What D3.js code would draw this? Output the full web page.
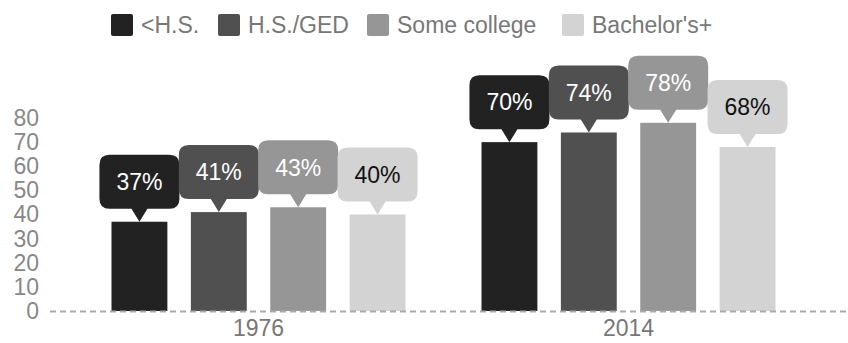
<!DOCTYPE html>
<html>
<head>
<meta charset="utf-8">
<script src="https://cdn.jsdelivr.net/npm/d3@7"></script>
<style>
  body { margin: 0; background: #fff; }
  text { font-family: "Liberation Sans", Arial, sans-serif; }
</style>
</head>
<body>
<div id="chart"></div>
<script>
var years = ["1976", "2014"];
var levels = ["<H.S.", "H.S./GED", "Some college", "Bachelor's+"];
var values1976 = [37, 41, 43, 40];
var values2014 = [70, 74, 78, 68];
var yTicks = [0, 10, 20, 30, 40, 50, 60, 70, 80];
var colors = ["#222222", "#505050", "#969696", "#d3d3d3"];
var labelColors = ["#ffffff", "#ffffff", "#ffffff", "#111111"];

var size = {
  width: 848,
  height: 343
};

var data = [];
years.forEach(function (yr, i) {
  var vals = i === 0 ? values1976 : values2014;
  levels.forEach(function (lv, j) {
    data.push({year: yr, level: lv, value: vals[j], idx: j});
  });
});

var svg = d3.select("#chart")
  .append("svg")
  .attr("width", size.width)
  .attr("height", size.height);

var yScale = d3.scaleLinear().domain([0, 80]).range([311, 118]);
var xScale = d3.scaleBand().domain(years).range([73.5, 813.5]);
var xInner = d3.scaleBand().domain(levels).range([38, 332]).paddingInner(0.296);
var color = d3.scaleOrdinal().domain(levels).range(colors);
var textColor = d3.scaleOrdinal().domain(levels).range(labelColors);

// y axis (labels only)
var yAxis = d3.axisLeft(yScale).tickValues(yTicks).tickSize(0).tickPadding(0);
var gy = svg.append("g")
  .attr("transform", "translate(39,0)")
  .call(yAxis);
gy.select(".domain").remove();
gy.selectAll("text")
  .attr("fill", "#888")
  .style("font-size", "23px")
  .style("font-family", "'Liberation Sans', Arial, sans-serif");

// bars
var bar = svg.selectAll("g.bar")
  .data(data)
  .enter()
  .append("g")
  .attr("class", "bar");

bar.append("rect")
  .attr("x", function (d) { return xScale(d.year) + xInner(d.level); })
  .attr("y", function (d) { return yScale(d.value); })
  .attr("width", xInner.bandwidth())
  .attr("height", function (d) { return yScale(0) - yScale(d.value); })
  .attr("fill", function (d) { return color(d.level); });

// baseline dashed
svg.append("line")
  .attr("x1", 50)
  .attr("x2", size.width)
  .attr("y1", yScale(0) + 0.5)
  .attr("y2", yScale(0) + 0.5)
  .attr("stroke", "#aaa")
  .attr("stroke-width", 2)
  .attr("stroke-dasharray", "6,4");

// x axis labels
var xAxis = d3.axisBottom(xScale).tickSize(0).tickPadding(0);
var gx = svg.append("g")
  .attr("transform", "translate(0," + (yScale(0) + 9) + ")")
  .call(xAxis);
gx.select(".domain").remove();
gx.selectAll("text")
  .attr("fill", "#777")
  .attr("dy", "0.71em")
  .style("font-size", "23px")
  .style("font-family", "'Liberation Sans', Arial, sans-serif");

// callouts
var boxW = 80, boxH = 54, gap = 13, tipW = 8, r = 10;
function callout(d) {
  var cx = xScale(d.year) + xInner(d.level) + xInner.bandwidth() / 2;
  var tipY = yScale(d.value);
  var b = tipY - gap;
  var t = b - boxH;
  var l = cx - boxW / 2, rt = cx + boxW / 2;
  return "M" + (l + r) + "," + t +
    "H" + (rt - r) + "Q" + rt + "," + t + " " + rt + "," + (t + r) +
    "V" + (b - r) + "Q" + rt + "," + b + " " + (rt - r) + "," + b +
    "H" + (cx + tipW) + "L" + cx + "," + tipY + "L" + (cx - tipW) + "," + b +
    "H" + (l + r) + "Q" + l + "," + b + " " + l + "," + (b - r) +
    "V" + (t + r) + "Q" + l + "," + t + " " + (l + r) + "," + t + "Z";
}

bar.append("path")
  .attr("d", callout)
  .attr("fill", function (d) { return color(d.level); });

bar.append("text")
  .text(function (d) { return d.value + "%"; })
  .attr("x", function (d) { return xScale(d.year) + xInner(d.level) + xInner.bandwidth() / 2; })
  .attr("y", function (d) { return yScale(d.value) - gap - boxH / 2; })
  .attr("dy", "0.36em")
  .attr("text-anchor", "middle")
  .attr("fill", function (d) { return textColor(d.level); })
  .style("font-size", "23px");

// legend
var legendX = [111, 218, 367, 562];
var legend = svg.selectAll("g.legend")
  .data(levels)
  .enter()
  .append("g")
  .attr("class", "legend")
  .attr("transform", function (d, i) { return "translate(" + legendX[i] + ",14)"; });

legend.append("rect")
  .attr("width", 22)
  .attr("height", 22)
  .attr("rx", 2)
  .attr("fill", function (d) { return color(d); });

legend.append("text")
  .text(function (d) { return d; })
  .attr("x", 30)
  .attr("y", 11)
  .attr("dy", "0.36em")
  .attr("fill", "#777")
  .style("font-size", "23px");
</script>
</body>
</html>
